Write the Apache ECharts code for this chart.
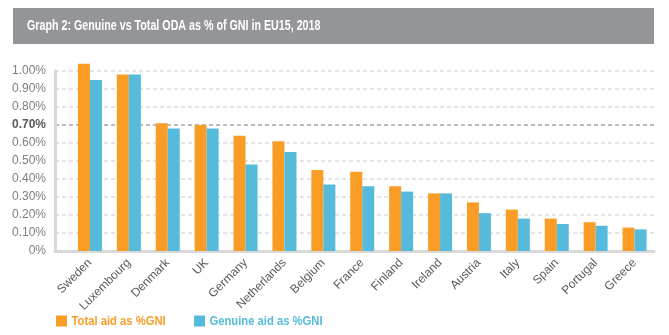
<!DOCTYPE html>
<html>
<head>
<meta charset="utf-8">
<script src="https://cdn.jsdelivr.net/npm/echarts@6/dist/echarts.min.js"></script>
<style>
html,body{margin:0;padding:0;background:#fff;}
#chart{width:669px;height:335px;}
</style>
</head>
<body>
<div id="chart"></div>
<script>
const titleText = 'Graph 2: Genuine vs Total ODA as % of GNI in EU15, 2018';
const countries = ['Sweden','Luxembourg','Denmark','UK','Germany','Netherlands','Belgium','France','Finland','Ireland','Austria','Italy','Spain','Portugal','Greece'];
const totalAid = [1.04,0.98,0.71,0.70,0.64,0.61,0.45,0.44,0.36,0.32,0.27,0.23,0.18,0.16,0.13];
const genuineAid = [0.95,0.98,0.68,0.68,0.48,0.55,0.37,0.36,0.33,0.32,0.21,0.18,0.15,0.14,0.12];
const seriesNames = ['Total aid as %GNI','Genuine aid as %GNI'];
const yTicks = [0,0.1,0.2,0.3,0.4,0.5,0.6,0.7,0.8,0.9,1.0];
const highlightTick = 0.7;

const ORANGE = '#F99D26';
const BLUE = '#56BBDA';
const SANS = '"Liberation Sans",Arial,sans-serif';

const gridColors = yTicks.map(v => Math.abs(v - highlightTick) < 1e-6 ? '#A6A6A6' : '#DCDCDC');

function legendItem(x, name, color) {
  return [
    {type: 'rect', x: x, y: 315.5, shape: {width: 11, height: 11}, style: {fill: color}},
    {type: 'text', x: x + 15.5, y: 321.5, scaleX: 0.865,
     style: {text: name, fill: color, fontFamily: SANS, fontWeight: 'bold', fontSize: 13,
             align: 'left', verticalAlign: 'middle'}}
  ];
}

const chart = echarts.init(document.getElementById('chart'), null, {renderer:'canvas'});
chart.setOption({
  animation: false,
  backgroundColor: '#ffffff',
  graphic: [
    {type: 'rect', x: 13, y: 8, z: -1, shape: {width: 641, height: 36}, style: {fill: '#939598'}},
    {type: 'text', x: 27, y: 26.5, scaleX: 0.764,
     style: {text: titleText, fill: '#ffffff', fontFamily: SANS, fontWeight: 'bold', fontSize: 14,
             align: 'left', verticalAlign: 'middle'}}
  ].concat(legendItem(56, seriesNames[0], ORANGE), legendItem(194, seriesNames[1], BLUE)),
  grid: [
    {left: 55, right: 15, top: 71, bottom: 84},
    {left: 70.5, right: 15, top: 71, bottom: 84}
  ],
  xAxis: [
    {gridIndex: 0, type: 'value', min: 0, max: 1,
     axisLine: {show: true, lineStyle: {color: '#D9D9D9', width: 3}},
     axisTick: {show: false}, axisLabel: {show: false}, splitLine: {show: false}},
    {gridIndex: 1, type: 'category', data: countries,
     axisLine: {show: false}, axisTick: {show: false},
     axisLabel: {rotate: 45, margin: 10, color: '#595959', fontFamily: SANS, fontSize: 12, interval: 0}}
  ],
  yAxis: [
    {gridIndex: 0, type: 'value', min: 0, max: 1, interval: 0.1,
     axisLine: {show: true, lineStyle: {color: '#D9D9D9', width: 3}},
     axisTick: {show: false},
     splitLine: {show: true, lineStyle: {color: gridColors, width: 1.5, type: [4,3]}},
     axisLabel: {
       margin: 9, color: '#7F7F7F', fontFamily: SANS, fontSize: 12,
       formatter: v => {
         if (Math.abs(v) < 1e-9) return '0%';
         const s = v.toFixed(2) + '%';
         return Math.abs(v - highlightTick) < 1e-6 ? '{b|' + s + '}' : s;
       },
       rich: {b: {fontWeight: 'bold', color: '#595959', fontFamily: SANS, fontSize: 12}}
     }},
    {gridIndex: 1, type: 'value', min: 0, max: 1, interval: 0.1, show: false, splitLine: {show: false}}
  ],
  series: [
    {name: seriesNames[0], type: 'bar', xAxisIndex: 1, yAxisIndex: 1, data: totalAid,
     barWidth: 12, barGap: '0%', clip: false, itemStyle: {color: ORANGE}, z: 1},
    {name: seriesNames[1], type: 'bar', xAxisIndex: 1, yAxisIndex: 1, data: genuineAid,
     barWidth: 12, barGap: '0%', clip: false, itemStyle: {color: BLUE}, z: 1}
  ]
});
</script>
</body>
</html>
